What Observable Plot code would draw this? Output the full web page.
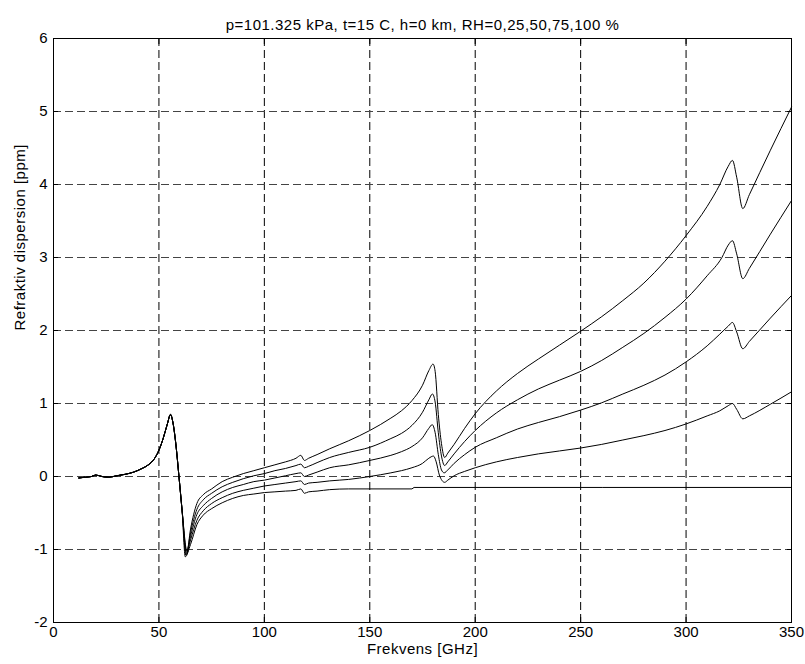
<!DOCTYPE html>
<html><head><meta charset="utf-8">
<script src="https://cdn.jsdelivr.net/npm/d3@7"></script>
<script src="https://cdn.jsdelivr.net/npm/@observablehq/plot@0.6"></script>
<style>body{margin:0;background:#fff}</style>
</head><body><div id="chart"></div>
<script>
const titleText = "p=101.325 kPa, t=15 C, h=0 km, RH=0,25,50,75,100 %";
const xLabel = "Frekvens [GHz]";
const yLabel = "Refraktiv dispersion [ppm]";
const xTicks = [0, 50, 100, 150, 200, 250, 300, 350];
const yTicks = [-2, -1, 0, 1, 2, 3, 4, 5, 6];

// common part (all RH curves coincide below ~62 GHz)
const sharedGHz = [12, 15, 18, 20, 23, 26, 30, 34, 38, 42, 45, 48, 50, 52, 54, 55.5, 56.5, 58, 59.5, 61];
const sharedVal = [-0.02, -0.01, 0.0, 0.02, 0.0, -0.01, 0.01, 0.03, 0.06, 0.11, 0.16, 0.25, 0.36, 0.52, 0.72, 0.85, 0.76, 0.45, 0.0, -0.47];

const rh100GHz = [63.3, 65, 68, 71, 75, 80, 85, 90, 95, 100, 105, 110, 115, 117.3, 119, 121, 125, 131, 140, 150, 160, 165, 170, 175, 178, 180, 181, 182.5, 184, 185.5, 187, 190, 195, 200, 210, 220, 230, 240, 250, 260, 270, 280, 290, 300, 310, 316, 320, 322, 324, 326.9, 330, 340, 350];
const rh100Val = [-1.02, -0.72, -0.37, -0.25, -0.17, -0.07, -0.01, 0.04, 0.08, 0.12, 0.16, 0.2, 0.25, 0.29, 0.22, 0.25, 0.3, 0.38, 0.49, 0.63, 0.8, 0.9, 1.04, 1.25, 1.45, 1.54, 1.44, 0.85, 0.45, 0.26, 0.32, 0.44, 0.66, 0.86, 1.17, 1.41, 1.61, 1.8, 1.99, 2.19, 2.41, 2.65, 2.95, 3.3, 3.7, 4.0, 4.25, 4.33, 4.1, 3.67, 3.86, 4.47, 5.06];

const rh75GHz = [63.2, 65, 68, 71, 75, 80, 85, 90, 95, 100, 105, 110, 115, 117.3, 119, 121, 125, 131, 140, 150, 160, 165, 170, 175, 178, 179.7, 181, 182.5, 184, 185.5, 187, 190, 195, 200, 210, 220, 230, 240, 250, 260, 270, 280, 290, 300, 310, 317, 320, 322, 324, 326.9, 330, 340, 350];
const rh75Val = [-1.04, -0.77, -0.45, -0.32, -0.23, -0.14, -0.08, -0.03, 0.01, 0.04, 0.08, 0.11, 0.15, 0.17, 0.12, 0.14, 0.19, 0.26, 0.33, 0.4, 0.52, 0.59, 0.7, 0.88, 1.05, 1.13, 1.02, 0.6, 0.28, 0.15, 0.2, 0.31, 0.48, 0.63, 0.87, 1.05, 1.2, 1.32, 1.44, 1.59, 1.77, 1.96, 2.18, 2.43, 2.75, 3.0, 3.17, 3.23, 3.05, 2.71, 2.85, 3.32, 3.78];

const rh50GHz = [63, 65, 68, 71, 75, 80, 85, 90, 95, 100, 105, 110, 115, 117.3, 119, 121, 125, 131, 140, 150, 160, 165, 170, 175, 178, 179.6, 181, 182.5, 184, 185.3, 187, 190, 195, 200, 210, 220, 230, 240, 250, 260, 270, 280, 290, 300, 310, 316, 320, 322, 324, 326.9, 330, 340, 350];
const rh50Val = [-1.06, -0.82, -0.52, -0.4, -0.3, -0.21, -0.15, -0.11, -0.07, -0.05, -0.02, 0.01, 0.04, 0.05, 0.0, 0.02, 0.06, 0.12, 0.16, 0.22, 0.29, 0.34, 0.41, 0.53, 0.66, 0.71, 0.6, 0.3, 0.09, 0.05, 0.09, 0.18, 0.3, 0.4, 0.53, 0.65, 0.74, 0.82, 0.91, 1.01, 1.13, 1.25, 1.39, 1.57, 1.79, 1.95, 2.06, 2.11, 1.98, 1.75, 1.85, 2.17, 2.48];

const rh25GHz = [62.8, 65, 68, 71, 75, 80, 85, 90, 95, 100, 105, 110, 115, 117.3, 119, 121, 125, 131, 140, 150, 160, 165, 170, 175, 178, 180.2, 181.5, 183, 185.5, 187, 190, 195, 200, 210, 220, 230, 240, 250, 260, 270, 280, 290, 300, 310, 316, 320, 322, 324, 326.9, 330, 340, 350];
const rh25Val = [-1.08, -0.87, -0.6, -0.47, -0.37, -0.29, -0.23, -0.19, -0.16, -0.13, -0.11, -0.09, -0.07, -0.06, -0.11, -0.09, -0.08, -0.06, -0.04, 0.0, 0.05, 0.08, 0.12, 0.18, 0.25, 0.28, 0.2, 0.02, -0.08, -0.05, 0.01, 0.07, 0.12, 0.2, 0.26, 0.31, 0.35, 0.39, 0.44, 0.5, 0.56, 0.63, 0.72, 0.83, 0.9, 0.97, 1.0, 0.92, 0.79, 0.83, 0.99, 1.16];

const rh0GHz = [62.5, 65, 68, 71, 75, 80, 85, 90, 95, 100, 105, 110, 115, 117.3, 119, 121, 125, 131, 140, 170, 171, 350];
const rh0Val = [-1.1, -0.93, -0.66, -0.53, -0.44, -0.36, -0.3, -0.26, -0.24, -0.22, -0.21, -0.2, -0.19, -0.17, -0.23, -0.21, -0.2, -0.18, -0.17, -0.17, -0.15, -0.15];

const seriesList = [
  ["RH100", rh100GHz, rh100Val],
  ["RH75", rh75GHz, rh75Val],
  ["RH50", rh50GHz, rh50Val],
  ["RH25", rh25GHz, rh25Val],
  ["RH0", rh0GHz, rh0Val]
];
const rows = [];
for (const [name, gx, gy] of seriesList) {
  sharedGHz.forEach((f, i) => rows.push({series: name, f, v: sharedVal[i]}));
  gx.forEach((f, i) => rows.push({series: name, f, v: gy[i]}));
}

const fmt = d => String(d);
const chart = Plot.plot({
  width: 805, height: 664,
  marginTop: 38, marginBottom: 42, marginLeft: 53, marginRight: 14,
  style: {fontFamily: "'Liberation Sans', Arial, sans-serif", fontSize: "15px", background: "#fff", color: "#000"},
  x: {domain: [0, 350]},
  y: {domain: [-2, 6]},
  marks: [
    Plot.gridX(xTicks, {stroke: "#000", strokeOpacity: 1, strokeDasharray: "8,4"}),
    Plot.gridY(yTicks, {stroke: "#444", strokeOpacity: 1, strokeDasharray: "8,4"}),
    Plot.axisX(xTicks, {anchor: "bottom", tickSize: 0, tickPadding: 4, label: null, tickFormat: fmt, fontSize: 15}),
    Plot.axisY(yTicks, {anchor: "left", tickSize: 0, tickPadding: 6, label: null, tickFormat: fmt, fontSize: 15}),
    Plot.axisX(xTicks, {anchor: "bottom", tickSize: -5, tickFormat: () => "", label: null}),
    Plot.axisX(xTicks, {anchor: "top", tickSize: -5, tickFormat: () => "", label: null}),
    Plot.axisY(yTicks, {anchor: "left", tickSize: -5, tickFormat: () => "", label: null}),
    Plot.axisY(yTicks, {anchor: "right", tickSize: -5, tickFormat: () => "", label: null}),
    Plot.line(rows, {x: "f", y: "v", z: "series", stroke: "#000", strokeWidth: 1, curve: "monotone-x"}),
    Plot.frame({stroke: "#000", strokeWidth: 1}),
    Plot.text([titleText], {frameAnchor: "top", dy: -19, fontSize: 15}),
    Plot.text([xLabel], {frameAnchor: "bottom", dy: 31, fontSize: 15}),
    Plot.text([yLabel], {frameAnchor: "left", rotate: -90, dx: -33, fontSize: 15})
  ]
});
d3.select(chart).selectAll('g[aria-label="text"] text').style("letter-spacing", "0.5px");
document.getElementById("chart").appendChild(chart);
</script>
</body></html>
